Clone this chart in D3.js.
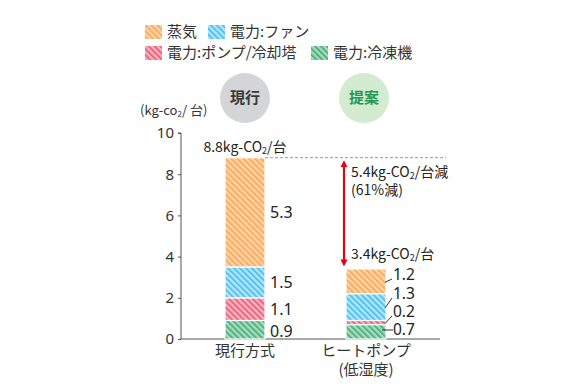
<!DOCTYPE html>
<html>
<head>
<meta charset="utf-8">
<script src="https://cdn.jsdelivr.net/npm/d3@7"></script>
<style>
  body { margin: 0; background: #fff; }
  svg { font-family: "Noto Sans CJK JP", "Noto Sans", sans-serif; }
</style>
</head>
<body>
<div id="chart"></div>
<script>
// data
const categories = ["現行方式", "ヒートポンプ"];
const seriesNames = ["電力:冷凍機", "電力:ポンプ/冷却塔", "電力:ファン", "蒸気"];
const currentValues = [0.9, 1.1, 1.5, 5.3];
const proposedValues = [0.7, 0.2, 1.3, 1.2];
const yTicks = [0, 2, 4, 6, 8, 10];
const legendOrder = ["蒸気", "電力:ファン", "電力:ポンプ/冷却塔", "電力:冷凍機"];

const colors = {
  "蒸気": ["#fdd4a8", "#f9ad62"],
  "電力:ファン": ["#b5e6fa", "#52c3f0"],
  "電力:ポンプ/冷却塔": ["#f8b3c0", "#ec6682"],
  "電力:冷凍機": ["#a9dcc0", "#4fb27f"]
};

const width = 582, height = 388;
const svg = d3.select("#chart").append("svg")
  .attr("width", width)
  .attr("height", height);

// stripe patterns
const defs = svg.append("defs");
seriesNames.forEach((s, i) => {
  const p = defs.append("pattern")
    .attr("id", "pat" + i)
    .attr("patternUnits", "userSpaceOnUse")
    .attr("width", 4.2)
    .attr("height", 4.2)
    .attr("patternTransform", "rotate(-45)");
  p.append("rect").attr("width", 4.2).attr("height", 4.2).attr("fill", colors[s][0]);
  p.append("rect").attr("width", 2).attr("height", 4.2).attr("fill", colors[s][1]);
});
const fillOf = s => `url(#pat${seriesNames.indexOf(s)})`;

// scales
const x = d3.scalePoint().domain(categories).range([245, 366]);
const y = d3.scaleLinear().domain([0, 10]).range([339, 133]);
const barW = 40;

// axis
const yAxis = svg.append("g")
  .attr("transform", "translate(181,0)")
  .call(d3.axisLeft(y).tickValues(yTicks).tickSize(3).tickPadding(4));
yAxis.select(".domain").attr("stroke", "#555").attr("d", `M-3,${y(10)}H0V${y(0)}`);
yAxis.selectAll(".tick line").attr("stroke", "#555");
yAxis.selectAll(".tick text")
  .attr("font-size", 15)
  .attr("fill", "#333")
  .attr("font-family", "'Noto Sans', sans-serif");

svg.append("line")
  .attr("x1", 181).attr("x2", 440)
  .attr("y1", y(0)).attr("y2", y(0))
  .attr("stroke", "#555");

// stacked bars
const rows = categories.map((c, i) => {
  const row = { cat: c };
  const vals = i === 0 ? currentValues : proposedValues;
  seriesNames.forEach((s, j) => row[s] = vals[j]);
  return row;
});
const stacked = d3.stack().keys(seriesNames)(rows);

svg.append("g").selectAll("g")
  .data(stacked)
  .join("g")
  .attr("fill", d => fillOf(d.key))
  .selectAll("rect")
  .data(d => d)
  .join("rect")
  .attr("x", d => x(d.data.cat) - barW / 2)
  .attr("width", barW)
  .attr("y", d => y(d[1]))
  .attr("height", d => y(d[0]) - y(d[1]))
  .attr("stroke", "#fff")
  .attr("stroke-width", 1.2);

// value labels for current bar
const labelFont = "'Noto Sans', sans-serif";
stacked.forEach(layer => {
  const d = layer[0];
  svg.append("text")
    .attr("x", x(categories[0]) + barW / 2 + 5)
    .attr("y", (y(d[0]) + y(d[1])) / 2 + (layer.key === "電力:冷凍機" ? 2 : 0))
    .attr("dy", "0.35em")
    .attr("font-size", 16)
    .attr("font-family", labelFont)
    .attr("fill", "#222")
    .text(d.data[layer.key].toFixed(1));
});

// value labels for proposed bar with leader lines
const px = x(categories[1]) + barW / 2;
const leaderY = { "蒸気": 275, "電力:ファン": 294, "電力:ポンプ/冷却塔": 312, "電力:冷凍機": 330 };
stacked.forEach(layer => {
  const d = layer[1];
  const mid = (y(d[0]) + y(d[1])) / 2;
  const ty = leaderY[layer.key];
  const straight = Math.abs(mid - ty) < 4;
  const line = svg.append("line").attr("stroke", "#333").attr("stroke-width", 1);
  if (straight) {
    line.attr("x1", px - 4).attr("y1", ty).attr("x2", px + 7).attr("y2", ty);
  } else {
    line.attr("x1", px - 1).attr("y1", mid + 1).attr("x2", px + 6).attr("y2", ty + 4);
  }
  svg.append("text")
    .attr("x", px + 7)
    .attr("y", ty)
    .attr("dy", "0.35em")
    .attr("font-size", 15.5)
    .attr("font-family", labelFont)
    .attr("fill", "#222")
    .text(d.data[layer.key].toFixed(1));
});

// totals
const total0 = d3.sum(currentValues), total1 = d3.sum(proposedValues);

function co2Label(g, xx, yy, prefix, suffix, anchor) {
  const t = g.append("text")
    .attr("x", xx).attr("y", yy)
    .attr("font-size", 14)
    .attr("fill", "#222")
    .attr("text-anchor", anchor || "start");
  t.append("tspan").text(prefix + "kg-CO");
  t.append("tspan").attr("font-size", 9).attr("dy", 2).text("2");
  t.append("tspan").attr("dy", -2).text("/台" + suffix);
  return t;
}
co2Label(svg, x(categories[0]), 152, total0.toFixed(1), "", "middle");
co2Label(svg, 351, 177, (total0 - total1).toFixed(1), "減");
svg.append("text").attr("x", 351).attr("y", 195)
  .attr("font-size", 14).attr("fill", "#222").text("(61%減)");
co2Label(svg, 351, 259, total1.toFixed(1), "");

// dashed reference line
svg.append("line")
  .attr("x1", x(categories[0]) + barW / 2).attr("x2", 446)
  .attr("y1", y(total0)).attr("y2", y(total0))
  .attr("stroke", "#999")
  .attr("stroke-dasharray", "3,2");

// red double arrow
const ax = 344;
defs.append("marker")
  .attr("id", "arr")
  .attr("viewBox", "0 0 10 10")
  .attr("refX", 5).attr("refY", 5)
  .attr("markerWidth", 3.2).attr("markerHeight", 3.2)
  .attr("orient", "auto-start-reverse")
  .append("path").attr("d", "M0,0L10,5L0,10Z").attr("fill", "#e60012");
svg.append("line")
  .attr("x1", ax).attr("x2", ax)
  .attr("y1", y(total0) + 6).attr("y2", y(total1) - 6)
  .attr("stroke", "#e60012")
  .attr("stroke-width", 2.2)
  .attr("marker-start", "url(#arr)")
  .attr("marker-end", "url(#arr)");

// category labels
svg.append("text").attr("x", x(categories[0])).attr("y", 356)
  .attr("text-anchor", "middle").attr("font-size", 15).attr("fill", "#333")
  .text(categories[0]);
svg.append("text").attr("x", x(categories[1])).attr("y", 356)
  .attr("text-anchor", "middle").attr("font-size", 15).attr("fill", "#333")
  .text(categories[1]);
svg.append("text").attr("x", x(categories[1])).attr("y", 375)
  .attr("text-anchor", "middle").attr("font-size", 15).attr("fill", "#333")
  .text("(低湿度)");

// unit label
const unit = svg.append("text").attr("x", 140).attr("y", 115)
  .attr("font-size", 13).attr("fill", "#333");
unit.append("tspan").text("(kg-co");
unit.append("tspan").attr("font-size", 8).attr("dy", 2).text("2");
unit.append("tspan").attr("dy", -2).text("/ 台)");

// badges
const badges = [
  { label: "現行", cx: 245, fill: "#d4d5d7", color: "#3a3a3a" },
  { label: "提案", cx: 364, fill: "#d3ebd0", color: "#1f9a4f" }
];
badges.forEach(b => {
  svg.append("circle").attr("cx", b.cx).attr("cy", 98).attr("r", 25).attr("fill", b.fill);
  svg.append("text").attr("x", b.cx).attr("y", 98).attr("dy", "0.35em")
    .attr("text-anchor", "middle").attr("font-size", 15).attr("font-weight", "bold")
    .attr("fill", b.color).text(b.label);
});

// legend
const legendPos = [
  { x: 145, y: 25 }, { x: 208, y: 25 },
  { x: 145, y: 46 }, { x: 311, y: 46 }
];
legendOrder.forEach((s, i) => {
  const p = legendPos[i];
  svg.append("rect").attr("x", p.x).attr("y", p.y).attr("width", 17).attr("height", 14)
    .attr("fill", fillOf(s));
  svg.append("text").attr("x", p.x + 22).attr("y", p.y + 7).attr("dy", "0.35em")
    .attr("font-size", 15).attr("fill", "#333").text(s);
});
</script>
</body>
</html>
